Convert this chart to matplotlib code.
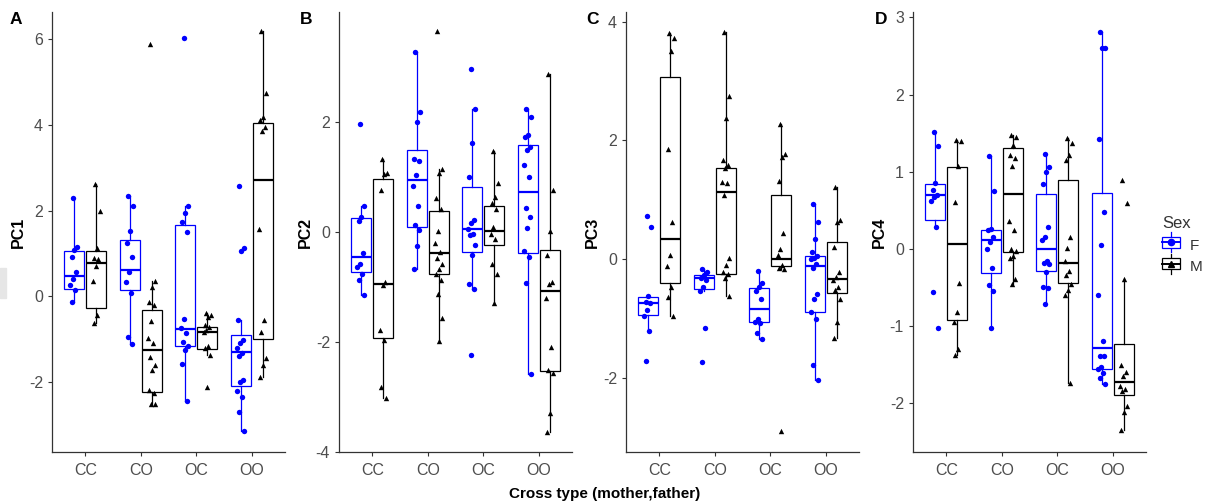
import numpy as np
import matplotlib
matplotlib.use("Agg")
import matplotlib.pyplot as plt
from matplotlib.patches import Rectangle
from matplotlib.lines import Line2D
from matplotlib.legend_handler import HandlerBase

plt.rcParams['font.family'] = ['Liberation Sans', 'DejaVu Sans']
plt.rcParams['axes.unicode_minus'] = False

# Kreuzungstypen
crosses = ["CC", "CO", "OC", "OO"]

# PC1 - Punkte je Kreuzung
pc1_f = [[2.31, 1.15, 1.09, 0.93, 0.56, 0.40, 0.26, 0.16, -0.13],
         [2.35, 2.11, 1.53, 1.24, 0.93, 0.58, 0.33, 0.08, -0.95, -1.11],
         [6.03, 2.11, 1.94, 1.75, 1.51, -0.53, -0.74, -0.85, -1.07, -1.16, -1.24, -1.58, -2.45],
         [2.58, 1.13, 1.05, -0.56, -1.02, -1.09, -1.20, -1.32, -1.40, -1.94, -2.00, -2.21, -2.34, -2.70, -3.15]]
pc1_m = [[2.63, 2.00, 1.13, 0.89, 0.87, 0.70, 0.37, -0.43, -0.62],
         [5.89, 0.36, 0.23, -0.12, -0.19, -0.57, -0.98, -1.09, -1.42, -1.61, -1.71, -2.19, -2.25, -2.50, -2.52],
         [-0.39, -0.43, -0.47, -0.66, -0.71, -0.78, -0.84, -1.15, -1.20, -1.36, -2.11],
         [6.19, 4.74, 4.18, 4.12, 3.96, 3.86, 1.57, -0.56, -0.83, -1.44, -1.59, -1.89]]
# Boxen: (unten Whisker, Q1, Median, Q3, oben Whisker)
pc1_f_box = [(-0.13, 0.17, 0.48, 1.05, 2.31), (-1.11, 0.15, 0.61, 1.32, 2.35),
             (-2.45, -1.16, -0.75, 1.68, 2.11), (-3.15, -2.10, -1.30, -0.91, -0.56)]
pc1_m_box = [(-0.62, -0.26, 0.77, 1.05, 2.63), (-2.52, -2.23, -1.25, -0.31, 0.36),
             (-1.36, -1.23, -0.83, -0.71, -0.39), (-1.89, -1.00, 2.72, 4.05, 6.19)]

# PC2
pc2_f = [[1.97, 0.48, 0.28, 0.20, -0.38, -0.58, -0.64, -0.76, -0.87, -1.15],
         [3.27, 2.19, 2.00, 1.32, 1.30, 1.04, 0.83, 0.48, 0.12, 0.03, -0.26, -0.68],
         [2.96, 2.24, 1.62, 1.00, 0.21, 0.16, 0.06, -0.03, -0.06, -0.23, -0.41, -0.95, -1.03, -2.24],
         [2.24, 2.10, 1.76, 1.73, 1.55, 1.50, 1.22, 1.00, 0.44, 0.27, 0.08, -0.35, -0.45, -0.93, -2.58]]
pc2_m = [[1.33, 1.07, 1.05, 0.76, -0.91, -0.97, -1.79, -1.97, -2.82, -3.01],
         [3.65, 1.15, 1.07, 0.62, 0.42, 0.02, -0.20, -0.36, -0.48, -0.58, -0.68, -0.77, -0.87, -1.12, -1.56, -1.99],
         [1.48, 0.89, 0.64, 0.53, 0.41, 0.10, -0.03, -0.12, -0.58, -0.77, -1.29],
         [2.87, 0.77, 0.01, -0.42, -0.91, -0.94, -1.20, -2.09, -2.50, -2.56, -3.29, -3.64]]
pc2_f_box = [(-1.15, -0.72, -0.46, 0.25, 0.48), (-0.68, 0.10, 0.94, 1.50, 3.27),
             (-1.03, -0.36, 0.05, 0.81, 2.24), (-2.58, -0.39, 0.73, 1.59, 2.24)]
pc2_m_box = [(-3.01, -1.93, -0.95, 0.96, 1.33), (-1.99, -0.77, -0.38, 0.39, 1.15),
             (-1.29, -0.23, 0.01, 0.47, 1.48), (-3.64, -2.53, -1.07, -0.33, 2.87)]

# PC3
pc3_f = [[0.73, 0.54, -0.62, -0.71, -0.74, -0.85, -0.95, -1.20, -1.71],
         [-0.17, -0.21, -0.26, -0.31, -0.35, -0.47, -0.53, -1.16, -1.73],
         [-0.19, -0.40, -0.46, -0.53, -0.67, -1.01, -1.05, -1.07, -1.24, -1.34],
         [0.93, 0.62, 0.35, 0.13, 0.06, 0.03, 0.00, -0.07, -0.15, -0.58, -0.67, -0.88, -1.01, -1.77, -2.03]]
pc3_m = [[3.81, 3.73, 3.50, 1.86, 0.63, 0.07, -0.11, -0.47, -0.64, -0.95],
         [3.82, 2.74, 2.37, 1.67, 1.58, 1.53, 1.30, 1.28, 1.09, 0.02, -0.10, -0.21, -0.24, -0.32, -0.62],
         [2.27, 1.78, 1.72, 1.32, 0.45, 0.18, 0.07, -0.10, -0.14, -0.17, -2.88],
         [1.22, 0.66, 0.63, 0.20, -0.21, -0.29, -0.35, -0.46, -0.51, -0.67, -1.06, -1.33]]
pc3_f_box = [(-1.20, -0.93, -0.73, -0.64, -0.62), (-0.53, -0.50, -0.31, -0.26, -0.17),
             (-1.34, -1.06, -0.83, -0.49, -0.19), (-2.03, -0.88, -0.11, 0.06, 0.93)]
pc3_m_box = [(-0.95, -0.40, 0.34, 3.07, 3.81), (-0.62, -0.24, 1.14, 1.54, 3.82),
             (-0.17, -0.11, 0.01, 1.09, 2.27), (-1.33, -0.56, -0.33, 0.30, 1.22)]

# PC4
pc4_f = [[1.51, 1.33, 0.86, 0.77, 0.70, 0.67, 0.62, 0.28, -0.56, -1.03],
         [1.21, 0.75, 0.26, 0.24, 0.16, 0.09, 0.00, -0.25, -0.47, -0.54, -1.03],
         [1.23, 1.06, 1.00, 0.84, 0.29, 0.15, 0.12, -0.16, -0.18, -0.20, -0.30, -0.49, -0.50, -0.71],
         [2.81, 2.61, 2.60, 1.43, 0.48, 0.05, -0.60, -1.19, -1.38, -1.39, -1.53, -1.56, -1.61, -1.67, -1.75]]
pc4_m = [[1.41, 1.40, 1.07, 0.61, -0.44, -0.81, -0.95, -1.29, -1.37],
         [1.48, 1.45, 1.35, 1.22, 1.18, 1.08, 0.36, 0.25, 0.00, -0.03, -0.09, -0.12, -0.39, -0.45],
         [1.44, 1.37, 1.22, 1.15, 0.16, 0.01, -0.16, -0.29, -0.34, -0.45, -0.53, -0.59, -1.73],
         [0.90, 0.59, -0.39, -1.50, -1.59, -1.64, -1.78, -1.81, -1.84, -2.03, -2.11, -2.35]]
pc4_f_box = [(0.28, 0.38, 0.70, 0.84, 1.51), (-1.03, -0.31, 0.11, 0.24, 1.21),
             (-0.71, -0.28, 0.00, 0.71, 1.23), (-1.75, -1.55, -1.28, 0.72, 2.81)]
pc4_m_box = [(-1.37, -0.92, 0.07, 1.06, 1.41), (-0.45, -0.04, 0.71, 1.31, 1.48),
             (-1.73, -0.44, -0.18, 0.89, 1.44), (-2.35, -1.89, -1.72, -1.23, -0.39)]

panels = [
    ("A", "PC1", pc1_f, pc1_m, pc1_f_box, pc1_m_box, (-3.63, 6.64), [-2, 0, 2, 4, 6]),
    ("B", "PC2", pc2_f, pc2_m, pc2_f_box, pc2_m_box, (-4.0, 4.0), [-4, -2, 0, 2]),
    ("C", "PC3", pc3_f, pc3_m, pc3_f_box, pc3_m_box, (-3.24, 4.16), [-2, 0, 2, 4]),
    ("D", "PC4", pc4_f, pc4_m, pc4_f_box, pc4_m_box, (-2.63, 3.07), [-2, -1, 0, 1, 2, 3]),
]

lefts = [52, 339, 626, 913]
letter_x = [10, 300, 586, 875]
W, H = 1208, 503

fig = plt.figure(figsize=(W / 100, H / 100), dpi=100)
fig.patches.append(Rectangle((0, 205 / H), 6 / W, 30 / H, transform=fig.transFigure,
                             color="#e6e6e6", zorder=0))


def jitter(n):
    # feste Streuung in x, nur zur Darstellung
    return ((np.arange(n) * 0.618 + 0.3) % 1 - 0.5) * 0.14


def draw_group(ax, pos, vals, box, color, marker):
    stats = [dict(whislo=b[0], q1=b[1], med=b[2], q3=b[3], whishi=b[4], fliers=[]) for b in box]
    ax.bxp(stats, positions=pos, widths=0.36, showcaps=False, showfliers=False,
           patch_artist=True,
           boxprops=dict(facecolor="white", edgecolor=color, linewidth=0.9),
           whiskerprops=dict(color=color, linewidth=0.9),
           medianprops=dict(color=color, linewidth=1.6), zorder=2)
    for p, v in zip(pos, vals):
        ax.scatter(p + jitter(len(v)), v, s=15, marker=marker, color=color,
                   linewidths=0, zorder=3)


x = np.arange(1, 5)
for i, (letter, lab, fv, mv, fb, mb, ylim, ticks) in enumerate(panels):
    ax = fig.add_axes([lefts[i] / W, 1 - 452 / H, 233 / W, 440 / H])
    draw_group(ax, x - 0.2, fv, fb, "blue", "o")
    draw_group(ax, x + 0.2, mv, mb, "black", "^")
    ax.set_xlim(0.4, 4.6)
    ax.set_ylim(*ylim)
    ax.set_xticks(x)
    ax.set_xticklabels(crosses)
    ax.set_yticks(ticks)
    ax.set_yticklabels([str(t) for t in ticks])
    for s in ["top", "right"]:
        ax.spines[s].set_visible(False)
    for s in ["left", "bottom"]:
        ax.spines[s].set_color("#333333")
        ax.spines[s].set_linewidth(0.9)
    ax.tick_params(colors="#333333", labelcolor="#4d4d4d", labelsize=11.5, length=3, width=0.8)
    ax.tick_params(axis="x", pad=5)
    ax.set_ylabel(lab, fontsize=11.5, fontweight="bold", labelpad=2)
    fig.text(letter_x[i] / W, 1 - 20 / H, letter, fontsize=12.5, fontweight="bold", va="center")

fig.text(605 / W, 1 - 494 / H, "Cross type (mother,father)", fontsize=11,
         fontweight="bold", ha="center", va="center")


class BoxKey(HandlerBase):
    def create_artists(self, legend, orig, xd, yd, width, height, fontsize, trans):
        c = orig.get_color()
        m = orig.get_marker()
        cx = xd + width / 2
        cy = yd + height / 2
        rect = Rectangle((xd, yd + 0.5), width, height - 1, facecolor="white",
                         edgecolor=c, linewidth=0.9, transform=trans)
        w1 = Line2D([cx, cx], [yd - 2.5, yd + height + 2.5], color=c, lw=0.9, transform=trans)
        med = Line2D([xd, xd + width], [cy, cy], color=c, lw=1.4, transform=trans)
        pt = Line2D([cx], [cy], marker=m, color=c, markersize=4.5, lw=0, transform=trans)
        return [w1, rect, med, pt]


handles = [Line2D([], [], color="blue", marker="o"), Line2D([], [], color="black", marker="^")]
leg = fig.legend(handles, ["F", "M"], title="Sex", handler_map={Line2D: BoxKey()},
                 loc="upper left", bbox_to_anchor=(1150 / W, 1 - 204 / H), frameon=False,
                 fontsize=11, title_fontsize=12, handlelength=1.15, handleheight=0.9,
                 handletextpad=0.65, labelspacing=0.45, borderpad=0.3)
leg._legend_box.align = "left"
leg.get_title().set_color("#333333")
for t in leg.get_texts():
    t.set_color("#333333")

fig.savefig("out.png", dpi=100)
